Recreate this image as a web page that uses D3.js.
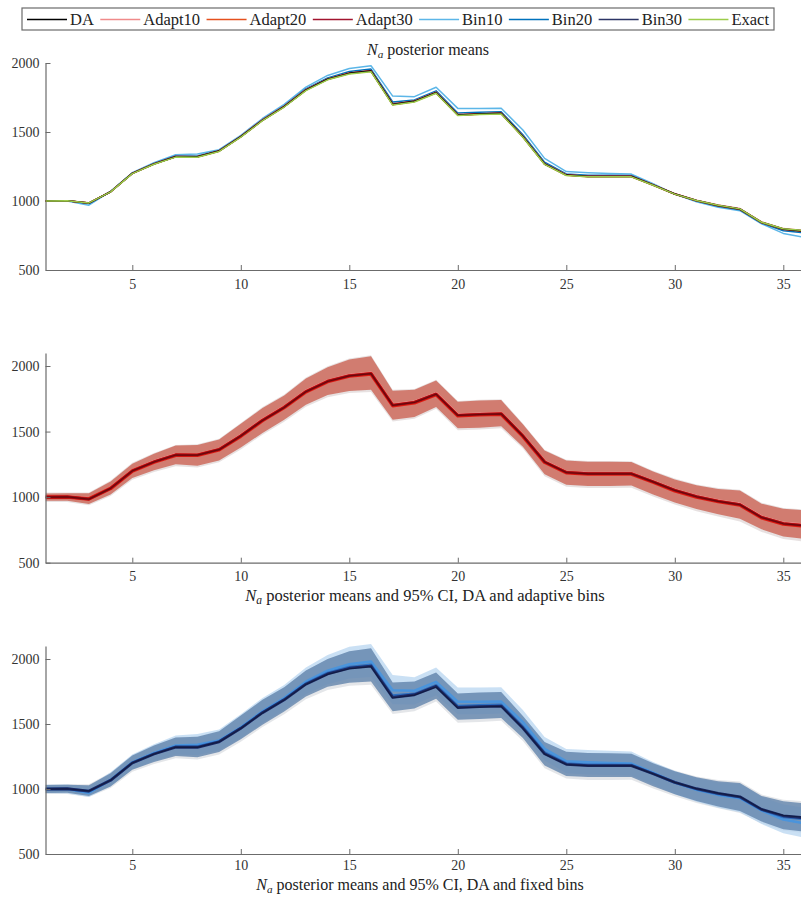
<!DOCTYPE html>
<html>
<head>
<meta charset="utf-8">
<script src="https://cdn.jsdelivr.net/npm/d3@7"></script>
<style>
  html, body { margin: 0; padding: 0; background: #fff; }
  svg { display: block; }
  svg text { font-family: "Liberation Serif", "DejaVu Serif", serif !important; }
</style>
</head>
<body>
<svg id="chart" width="801" height="897"></svg>
<script>
// Time steps
const steps = [1,2,3,4,5,6,7,8,9,10,11,12,13,14,15,16,17,18,19,20,21,22,23,24,25,26,27,28,29,30,31,32,33,34,35,36,37];

// Posterior means of N_a for each method
const meanDA      = [1000,1002,985,1067,1200,1268,1321,1320,1362,1466,1585,1684,1804,1882,1925,1942,1700,1722,1785,1623,1630,1635,1466,1268,1188,1178,1178,1178,1116,1051,1003,968,942,845,797,782,768];
const meanAdapt10 = [1000,1002,987,1068,1201,1270,1323,1322,1364,1468,1588,1687,1807,1885,1928,1945,1703,1725,1788,1626,1633,1638,1469,1271,1190,1180,1180,1180,1118,1053,1005,971,945,848,800,786,772];
const meanAdapt20 = [1000,1001,986,1066,1199,1267,1320,1319,1361,1465,1584,1683,1803,1881,1924,1940,1698,1720,1783,1621,1628,1633,1464,1266,1186,1176,1176,1176,1114,1049,1001,966,940,843,795,780,766];
const meanAdapt30 = [1000,1002,985,1067,1200,1269,1322,1321,1363,1467,1586,1685,1805,1883,1926,1943,1701,1723,1786,1624,1631,1636,1467,1269,1189,1179,1179,1179,1117,1052,1004,969,943,846,798,783,769];
const meanBin10   = [1000,1000,970,1070,1205,1278,1335,1340,1372,1475,1598,1700,1825,1910,1960,1980,1760,1756,1824,1671,1670,1672,1514,1309,1213,1205,1200,1195,1125,1050,995,955,930,835,765,735,715];
const meanBin20   = [1000,1001,982,1068,1202,1272,1326,1326,1366,1469,1590,1690,1812,1892,1938,1956,1718,1732,1798,1638,1643,1647,1480,1281,1196,1187,1186,1185,1119,1050,999,962,936,840,785,768,752];
const meanBin30   = [1000,1002,984,1067,1200,1269,1322,1321,1363,1467,1587,1686,1806,1885,1929,1946,1705,1725,1789,1627,1633,1638,1469,1271,1190,1180,1180,1180,1117,1051,1002,966,940,843,794,778,763];
const meanExact   = [1000,1001,986,1066,1198,1266,1318,1317,1359,1463,1582,1681,1800,1878,1921,1937,1695,1717,1781,1619,1626,1631,1462,1265,1185,1175,1175,1175,1114,1050,1003,969,943,846,799,785,771];

// 95% credible intervals
const ciDALo     = [962,962,938,1008,1132,1192,1236,1226,1266,1364,1476,1575,1690,1762,1794,1802,1576,1598,1674,1510,1515,1525,1370,1160,1080,1070,1070,1072,1004,944,893,852,815,735,680,660,645];
const ciDAHi     = [1035,1036,1036,1126,1262,1336,1398,1404,1446,1566,1688,1782,1912,1998,2058,2082,1818,1824,1896,1734,1742,1746,1562,1362,1286,1276,1276,1274,1202,1142,1097,1069,1057,957,918,906,896];
const ciAdaptLo  = [972,972,948,1020,1145,1205,1250,1240,1280,1378,1490,1590,1705,1778,1810,1818,1590,1612,1688,1525,1530,1540,1385,1175,1095,1085,1085,1088,1020,960,910,870,835,755,700,680,665];
const ciAdaptHi  = [1028,1030,1030,1120,1255,1330,1393,1398,1440,1560,1680,1775,1905,1990,2050,2075,1812,1818,1890,1728,1736,1740,1556,1355,1280,1270,1270,1268,1195,1135,1090,1062,1050,950,912,900,890];
const ciBinLo    = [970,972,946,1020,1148,1208,1254,1244,1284,1382,1495,1596,1712,1786,1818,1826,1598,1620,1694,1532,1538,1546,1392,1180,1100,1092,1092,1092,1022,960,908,866,830,750,690,672,655];
const ciBinHi    = [1030,1032,1028,1122,1258,1334,1396,1402,1444,1565,1686,1782,1912,2000,2060,2082,1820,1826,1896,1735,1742,1746,1562,1362,1286,1276,1275,1272,1198,1136,1090,1060,1046,946,905,890,880];
const ciBin10Lo  = [968,966,938,1022,1152,1215,1265,1262,1296,1390,1506,1610,1728,1805,1850,1862,1652,1650,1722,1575,1575,1580,1430,1220,1122,1112,1108,1104,1035,960,902,855,822,730,660,625,600];
const ciBin10Hi  = [1032,1034,1022,1128,1266,1345,1412,1424,1458,1575,1700,1800,1934,2030,2095,2115,1876,1860,1935,1780,1780,1782,1608,1400,1308,1300,1295,1288,1208,1138,1085,1050,1040,940,880,855,840];

// Axis ticks
const xTicks = [5,10,15,20,25,30,35];
const yTicks = [500,1000,1500,2000];

// Legend
const legendNames  = ["DA","Adapt10","Adapt20","Adapt30","Bin10","Bin20","Bin30","Exact"];
const legendColors = ["#000000","#f08a8a","#e5501e","#a2142f","#5cb6e8","#0072bd","#2c3566","#9ccc4a"];

const SERIF = "'Liberation Serif', 'DejaVu Serif', serif";
const svg = d3.select("#chart");
const W = 801;

const x = d3.scaleLinear().domain([1, 40]).range([45.5, 45.5 + 39 * 21.7]);

const panels = [
  { id: "p1", pad: 9, y: d3.scaleLinear().domain([500, 2000]).range([270, 63]) },
  { id: "p2", pad: 8, y: d3.scaleLinear().domain([500, 2100]).range([562.7, 562.7 - 1600 * 196.7 / 1500]) },
  { id: "p3", pad: 6, y: d3.scaleLinear().domain([500, 2100]).range([854, 854 - 1600 * 195 / 1500]) }
];

const defs = svg.append("defs");
panels.forEach(p => {
  const r = p.y.range();
  defs.append("clipPath").attr("id", "clip-" + p.id)
    .append("rect").attr("x", x(1)).attr("y", r[1] - 20)
    .attr("width", W - x(1)).attr("height", r[0] - r[1] + 20);
});

function drawAxes(p) {
  const g = svg.append("g");
  const gx = g.append("g").attr("transform", `translate(0,${p.y.range()[0]})`)
    .call(d3.axisBottom(x).tickValues(xTicks).tickFormat(d3.format("d"))
      .tickSizeInner(-5).tickSizeOuter(0).tickPadding(p.pad));
  const gy = g.append("g").attr("transform", `translate(${x(1)},0)`)
    .call(d3.axisLeft(p.y).tickValues(yTicks).tickFormat(d3.format("d"))
      .tickSizeInner(-5).tickSizeOuter(0).tickPadding(6));
  [gx, gy].forEach(a => {
    a.attr("font-family", SERIF);
    a.select(".domain").attr("stroke", "#6b6b6b").attr("stroke-width", 1.2);
    a.selectAll(".tick line").attr("stroke", "#6b6b6b").attr("stroke-width", 1);
    a.selectAll(".tick text").attr("fill", "#333").attr("font-size", 14)
      .style("font-family", SERIF);
  });
}

function drawLine(p, values, color, width, opacity) {
  const line = d3.line().x((d, i) => x(steps[i])).y(d => p.y(d));
  svg.append("path").datum(values)
    .attr("clip-path", `url(#clip-${p.id})`)
    .attr("fill", "none").attr("stroke", color).attr("stroke-width", width)
    .attr("stroke-opacity", opacity == null ? 1 : opacity)
    .attr("stroke-linejoin", "round")
    .attr("d", line);
}

function drawBand(p, lo, hi, color, opacity) {
  const area = d3.area().x((d, i) => x(steps[i])).y0((d, i) => p.y(lo[i])).y1((d, i) => p.y(hi[i]));
  svg.append("path").datum(lo)
    .attr("clip-path", `url(#clip-${p.id})`)
    .attr("fill", color).attr("fill-opacity", opacity)
    .attr("d", area);
}

function naLabel(xc, yb, rest, size) {
  const t = svg.append("text").attr("x", xc).attr("y", yb)
    .attr("text-anchor", "middle").attr("font-size", size).attr("fill", "#222")
    .style("font-family", SERIF);
  t.append("tspan").attr("font-style", "italic").text("N");
  t.append("tspan").attr("font-style", "italic").attr("font-size", size * 0.7).attr("dy", 3).text("a");
  t.append("tspan").attr("dy", -3).text(" " + rest);
}

// ---- Panel 1: posterior means of every method ----
const p1 = panels[0];
drawAxes(p1);
drawLine(p1, meanBin10, legendColors[4], 1.5);
drawLine(p1, meanBin20, legendColors[5], 1.5);
drawLine(p1, meanBin30, legendColors[6], 1.5);
drawLine(p1, meanAdapt10, legendColors[1], 1.5);
drawLine(p1, meanAdapt20, legendColors[2], 1.5);
drawLine(p1, meanAdapt30, legendColors[3], 1.5);
drawLine(p1, meanDA, legendColors[0], 1.5);
drawLine(p1, meanExact, legendColors[7], 1.5);
naLabel(428, 55, "posterior means", 16);

// ---- Panel 2: DA and adaptive bins with 95% CI ----
const p2 = panels[1];
drawBand(p2, ciDALo, ciDAHi, "#c9bdbd", 0.45);
drawBand(p2, ciAdaptLo, ciAdaptHi, "#cd6a5c", 0.85);
drawLine(p2, meanAdapt10, legendColors[1], 3.5);
drawLine(p2, meanAdapt20, "#e01b10", 3.6);
drawLine(p2, meanAdapt30, "#a00a12", 2.6);
drawLine(p2, meanDA, "#000", 1.2, 0.35);
drawAxes(p2);
naLabel(425, 601, "posterior means and 95% CI, DA and adaptive bins", 16.5);

// ---- Panel 3: DA and fixed bins with 95% CI ----
const p3 = panels[2];
drawBand(p3, ciDALo, ciDAHi, "#c4c8cf", 0.45);
drawBand(p3, ciBin10Lo, ciBin10Hi, "#b3d3ef", 0.7);
drawBand(p3, ciBinLo, ciBinHi, "#5f81ab", 0.78);
drawLine(p3, meanBin10, "#4a94dc", 2.6);
drawLine(p3, meanBin20, "#2d6fc0", 2.6);
drawLine(p3, meanBin30, "#1c2a66", 2.8);
drawLine(p3, meanDA, "#000", 1.2, 0.35);
drawAxes(p3);
naLabel(420, 890, "posterior means and 95% CI, DA and fixed bins", 16);

// ---- Legend ----
const lg = svg.append("g");
lg.append("rect").attr("x", 22).attr("y", 8).attr("width", 752).attr("height", 22)
  .attr("fill", "#fff").attr("stroke", "#6b6b6b").attr("stroke-width", 1.2);
const fs = 16.5, lineLen = 40, gapTxt = 3;
const texts = legendNames.map(n => lg.append("text").attr("font-size", fs).attr("fill", "#222")
  .style("font-family", SERIF).attr("y", 25).text(n));
const widths = texts.map(t => t.node().getComputedTextLength());
const startX = 27, endX = 769;
const used = widths.reduce((a, b) => a + b, 0) + legendNames.length * (lineLen + gapTxt);
const gapItem = (endX - startX - used) / (legendNames.length - 1);
let cx = startX;
legendNames.forEach((n, i) => {
  lg.append("line").attr("x1", cx).attr("x2", cx + lineLen).attr("y1", 19.5).attr("y2", 19.5)
    .attr("stroke", legendColors[i]).attr("stroke-width", 1.5);
  texts[i].attr("x", cx + lineLen + gapTxt);
  cx += lineLen + gapTxt + widths[i] + gapItem;
});
</script>
</body>
</html>
